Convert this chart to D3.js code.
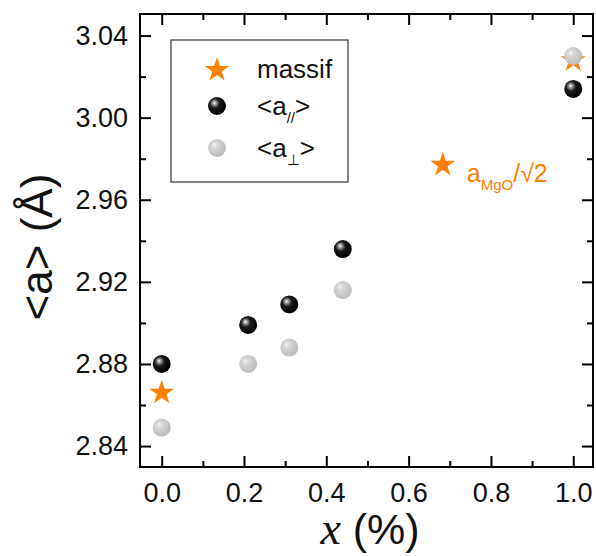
<!DOCTYPE html>
<html>
<head>
<meta charset="utf-8">
<script src="https://cdn.jsdelivr.net/npm/d3@7"></script>
<style>
  body { margin: 0; background: #fff; }
  svg { display: block; }
  text { font-family: "Liberation Sans", Arial, Helvetica, sans-serif; }
</style>
</head>
<body>
<svg id="chart" width="596" height="556"></svg>
<script>
// ---- data ----
const xPar = [0.0, 0.21, 0.31, 0.44, 1.0];
const aPar = [2.880, 2.899, 2.909, 2.936, 3.014];
const xPerp = [0.0, 0.21, 0.31, 0.44, 1.0];
const aPerp = [2.849, 2.880, 2.888, 2.916, 3.030];
const xBulk = [0.0, 1.0, 0.683];
const aBulk = [2.866, 3.028, 2.977];
const xTicks = [0.0, 0.2, 0.4, 0.6, 0.8, 1.0];
const yTicks = [2.84, 2.88, 2.92, 2.96, 3.00, 3.04];
const xMinor = [0.1, 0.3, 0.5, 0.7, 0.9];
const yMinor = [2.86, 2.90, 2.94, 2.98, 3.02];

const orange = "#ff8000";
const svg = d3.select("#chart");
const L = 140, R = 593, T = 14, B = 467;

const x = d3.scaleLinear().domain([-0.0527, 1.048]).range([L, R]);
const y = d3.scaleLinear().domain([2.8298, 3.0505]).range([B, T]);

// gradients
const defs = svg.append("defs");
const gB = defs.append("radialGradient").attr("id", "gBlack")
  .attr("cx", "40%").attr("cy", "40%").attr("r", "60%").attr("fx", "35%").attr("fy", "32%");
gB.append("stop").attr("offset", "0%").attr("stop-color", "#ffffff");
gB.append("stop").attr("offset", "18%").attr("stop-color", "#9a9a9a");
gB.append("stop").attr("offset", "45%").attr("stop-color", "#1a1a1a");
gB.append("stop").attr("offset", "100%").attr("stop-color", "#000000");
const gG = defs.append("radialGradient").attr("id", "gGray")
  .attr("cx", "40%").attr("cy", "40%").attr("r", "60%").attr("fx", "35%").attr("fy", "32%");
gG.append("stop").attr("offset", "0%").attr("stop-color", "#f4f4f4");
gG.append("stop").attr("offset", "30%").attr("stop-color", "#d6d6d6");
gG.append("stop").attr("offset", "100%").attr("stop-color", "#bcbcbc");

// axes (ticks inward, mirrored)
const fmt = d3.format(".2f");
function tickAxis(axisFn, scale, vals, len, fmtF) {
  return axisFn(scale).tickValues(vals).tickSize(len).tickSizeOuter(0).tickPadding(8).tickFormat(fmtF);
}
const axB = svg.append("g").attr("transform", `translate(0,${B})`)
  .call(tickAxis(d3.axisTop, x, xTicks, 11, d3.format(".1f")));
axB.selectAll("text").attr("dy", null).attr("y", 35);
svg.append("g").attr("transform", `translate(0,${B})`).call(tickAxis(d3.axisTop, x, xMinor, 6, ""));
svg.append("g").attr("transform", `translate(0,${T})`).call(tickAxis(d3.axisBottom, x, xTicks, 11, ""));
svg.append("g").attr("transform", `translate(0,${T})`).call(tickAxis(d3.axisBottom, x, xMinor, 6, ""));
const axL = svg.append("g").attr("transform", `translate(${L},0)`)
  .call(tickAxis(d3.axisRight, y, yTicks, 11, fmt));
axL.selectAll("text").attr("x", -12).attr("text-anchor", "end");
svg.append("g").attr("transform", `translate(${L},0)`).call(tickAxis(d3.axisRight, y, yMinor, 6, ""));
svg.append("g").attr("transform", `translate(${R},0)`).call(tickAxis(d3.axisLeft, y, yTicks, 11, ""));
svg.append("g").attr("transform", `translate(${R},0)`).call(tickAxis(d3.axisLeft, y, yMinor, 6, ""));

svg.selectAll(".domain").remove();
svg.selectAll(".tick line").attr("stroke", "#000").attr("stroke-width", 2);
svg.selectAll(".tick text").attr("font-size", 27).attr("fill", "#111")
  .attr("font-family", "'Liberation Sans', Arial, sans-serif");

svg.append("rect").attr("x", L).attr("y", T).attr("width", R - L).attr("height", B - T)
  .attr("fill", "none").attr("stroke", "#000").attr("stroke-width", 2);

// axis titles
svg.append("text").attr("transform", "translate(52,247) rotate(-90)")
  .attr("text-anchor", "middle").attr("font-size", 44).attr("fill", "#111")
  .text("<a> (Å)");
const xt = svg.append("text").attr("x", 370).attr("y", 544).attr("text-anchor", "middle")
  .attr("font-size", 43).attr("fill", "#111");
xt.append("tspan").attr("font-family", "'Liberation Serif', 'DejaVu Serif', serif")
  .attr("font-style", "italic").attr("font-size", 46).text("x");
xt.append("tspan").text(" (%)");

// legend
svg.append("rect").attr("x", 171).attr("y", 40).attr("width", 177).attr("height", 142)
  .attr("fill", "#fff").attr("stroke", "#333").attr("stroke-width", 1.2);

const star = d3.symbol().type(d3.symbolStar).size(190);

function sphere(g, cx, cy, fill) {
  g.append("circle").attr("cx", cx).attr("cy", cy).attr("r", 9).attr("fill", fill);
}

svg.append("path").attr("d", star).attr("transform", "translate(217,70)").attr("fill", orange);
sphere(svg, 217, 106, "url(#gBlack)");
sphere(svg, 217, 148, "url(#gGray)");
svg.append("text").attr("x", 257).attr("y", 78).attr("font-size", 26).attr("fill", "#111").text("massif");
const t2 = svg.append("text").attr("x", 257).attr("y", 115).attr("font-size", 26).attr("fill", "#111");
t2.append("tspan").text("<a");
t2.append("tspan").attr("font-size", 15).attr("dy", 8).text("//");
t2.append("tspan").attr("dy", -8).text(">");
const t3 = svg.append("text").attr("x", 257).attr("y", 157).attr("font-size", 26).attr("fill", "#111");
t3.append("tspan").text("<a");
t3.append("tspan").attr("font-size", 15).attr("dy", 8).text("⊥");
t3.append("tspan").attr("dy", -8).text(">");

// data marks
const perp = xPerp.map((v, i) => [v, aPerp[i]]);
const par = xPar.map((v, i) => [v, aPar[i]]);
const bulk = xBulk.map((v, i) => [v, aBulk[i]]);

svg.append("g").selectAll("path").data(bulk).join("path")
  .attr("d", star).attr("fill", orange)
  .attr("transform", d => `translate(${x(d[0])},${y(d[1])})`);
svg.append("g").selectAll("circle").data(par).join("circle")
  .attr("cx", d => x(d[0])).attr("cy", d => y(d[1])).attr("r", 9).attr("fill", "url(#gBlack)");
svg.append("g").selectAll("circle").data(perp).join("circle")
  .attr("cx", d => x(d[0])).attr("cy", d => y(d[1])).attr("r", 9).attr("fill", "url(#gGray)");

// annotation
const an = svg.append("text").attr("x", x(xBulk[2]) + 24).attr("y", y(aBulk[2]) + 17)
  .attr("font-size", 25).attr("fill", orange);
an.append("tspan").text("a");
an.append("tspan").attr("font-size", 15).attr("dy", 8).text("MgO");
an.append("tspan").attr("dy", -8).text("/√2");
</script>
</body>
</html>
